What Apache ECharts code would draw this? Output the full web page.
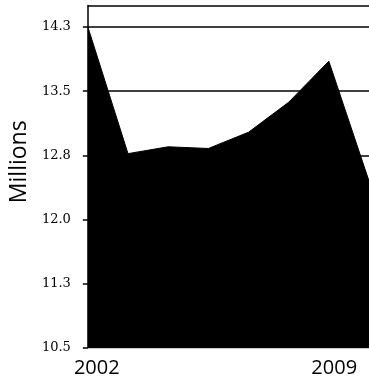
<!DOCTYPE html>
<html>
<head>
<meta charset="utf-8">
<script src="https://cdn.jsdelivr.net/npm/echarts@6/dist/echarts.min.js"></script>
<style>html,body{margin:0;padding:0;background:#fff;}#c{width:369px;height:381px;}</style>
</head>
<body>
<div id="c"></div>
<script>
const years = ['2002','2003','2004','2005','2006','2007','2008','2009'];
const values = [14.25, 12.77, 12.85, 12.83, 13.02, 13.37, 13.85, 12.45];
const yTickLabels = ['10.5','11.3','12.0','12.8','13.5','14.3'];
const xTickLabels = [2002, 2009];
const yName = 'Millions';

const chart = echarts.init(document.getElementById('c'));
const yMin = 10.5, yStep = 0.75;
chart.setOption({
  animation: false,
  grid: { left: 87, right: -1, top: 5.5, bottom: 33 },
  xAxis: [
    {
      type: 'category', data: years, boundaryGap: false,
      axisLine: { show: true, lineStyle: { color: '#c8c8c8', width: 1 } },
      axisTick: { show: false }, axisLabel: { show: false },
      splitLine: { show: false }
    },
    {
      type: 'value', position: 'bottom', min: 2001.736, max: 2010.026,
      axisLine: { show: false }, axisTick: { show: false },
      splitLine: { show: false },
      axisLabel: {
        customValues: xTickLabels, margin: 10,
        color: '#000', fontFamily: 'Open Sans', fontSize: 20,
        formatter: v => String(v)
      }
    }
  ],
  yAxis: {
    type: 'value', min: yMin, max: 14.5, interval: yStep,
    name: yName, nameLocation: 'middle', nameGap: 38,
    nameTextStyle: { fontFamily: 'Open Sans', fontSize: 23, color: '#000', padding: [0, 0, 0, 30] },
    axisLine: { show: true, lineStyle: { color: '#000', width: 1.5 } },
    axisTick: { show: true, length: 5, lineStyle: { color: '#000', width: 1.5 } },
    splitLine: { show: true, lineStyle: { color: '#000', width: 1.5 } },
    axisLabel: {
      showMaxLabel: false, margin: 17,
      color: '#000', fontFamily: 'DejaVu Serif', fontSize: 13,
      formatter: v => {
        const i = Math.round((v - yMin) / yStep);
        return yTickLabels[i] !== undefined ? yTickLabels[i] : '';
      }
    }
  },
  series: [{
    type: 'line', xAxisIndex: 0, data: values, symbol: 'none',
    lineStyle: { color: '#000', width: 1 },
    areaStyle: { color: '#000', opacity: 1, origin: 'start' }
  }]
});
</script>
</body>
</html>
